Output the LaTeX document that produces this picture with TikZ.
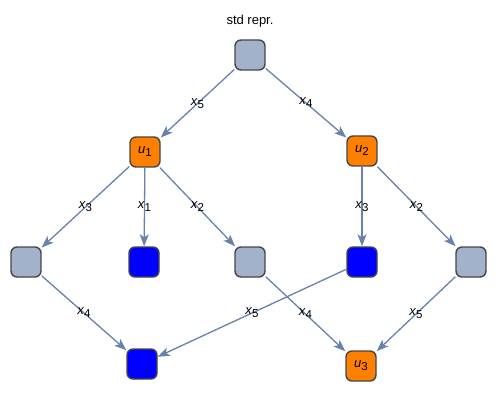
\documentclass[tikz,border=0pt]{standalone}
\usepackage{fontspec}
\setmainfont{Liberation Sans}
\usetikzlibrary{arrows.meta,positioning}

\definecolor{vgray}{RGB}{163,178,203}
\definecolor{vorange}{RGB}{255,128,0}
\definecolor{vblue}{RGB}{0,0,255}
\definecolor{eblue}{RGB}{104,130,172}
\definecolor{vborder}{RGB}{70,70,70}

\newcommand{\sub}[2]{\textit{#1}\raisebox{-0.45ex}{\fontsize{11.5}{12}\selectfont #2}}

\begin{document}
\begin{tikzpicture}[
      x=1pt, y=-1pt,
      every node/.style={font=\fontsize{13}{15}\selectfont},
      vertex/.style={rectangle, rounded corners=6pt, draw=vborder, line width=1.4pt,
            minimum size=30pt, inner sep=0pt},
      plain/.style={vertex, fill=vgray},
      unit/.style={vertex, fill=vorange},
      leaf/.style={vertex, fill=vblue},
      edge/.style={-{Stealth[length=12pt, width=9pt, inset=3pt]}, draw=eblue,
            fill=eblue, line width=1.3pt}
]
\useasboundingbox (0,0) rectangle (498,401);

\node[plain] (root) at (250,55) {};
\node[above=9pt of root] (title) {std repr.};
\node[unit] (u1) at (145,152) {\sub{u}{1}};
\node[unit] (u2) at (362,151) {\sub{u}{2}};
\node[plain] (g1) at (26,262) {};
\node[leaf] (b1) at (144,262) {};
\node[plain] (g2) at (250,262) {};
\node[leaf] (b2) at (362,262) {};
\node[plain] (g3) at (471,262) {};
\node[leaf] (b3) at (142,364) {};
\node[unit] (u3) at (361,366) {\sub{u}{3}};

\draw[edge] (root) -- node {\sub{x}{5}} (u1);
\draw[edge] (root) -- node {\sub{x}{4}} (u2);
\draw[edge] (u1) -- node {\sub{x}{3}} (g1);
\draw[edge] (u1) -- node {\sub{x}{1}} (b1);
\draw[edge] (u1) -- node {\sub{x}{2}} (g2);
\draw[edge] (u2) -- node {\sub{x}{3}} (b2);
\draw[edge] (u2) -- node {\sub{x}{2}} (g3);
\draw[edge] (g1) -- node {\sub{x}{4}} (b3);
\draw[edge] (b2) -- node {\sub{x}{5}} (b3);
\draw[edge] (g2) -- node {\sub{x}{4}} (u3);
\draw[edge] (g3) -- node {\sub{x}{5}} (u3);
\end{tikzpicture}
\end{document}
